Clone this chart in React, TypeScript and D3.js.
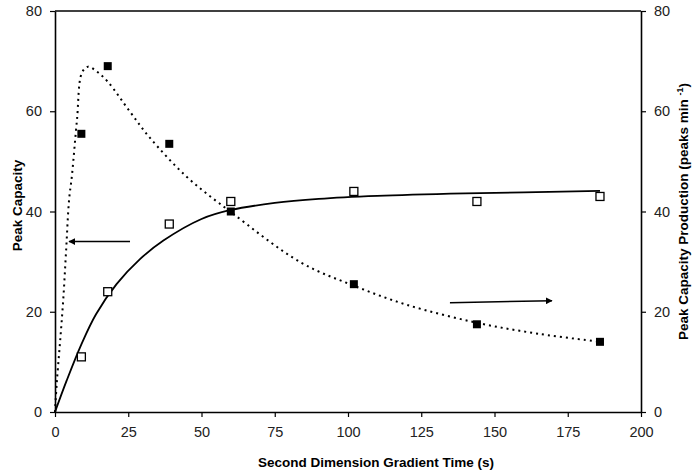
import React, { FC, useEffect, useRef } from "react"
import { axisBottom, axisLeft, axisRight, curveCatmullRom, line, scaleLinear, select } from "d3"

// measured points
const gradientTime = [9, 18, 39, 60, 102, 144, 186]
const peakCapacity = [11, 24, 37.5, 42, 44, 42, 43]
const peakProduction = [55.5, 69, 53.5, 40, 25.5, 17.5, 14]

// fitted curves
const capacityFitTime = [0, 4, 9, 14, 21, 29, 37, 50, 60, 75, 90, 110, 140, 186]
const capacityFitValue = [0, 6.3, 13.5, 19.5, 25.5, 30.5, 34.2, 38.5, 40.3, 41.7, 42.5, 43.1, 43.6, 44.1]
const productionFitTime = [0, 0.6, 1.7, 2.8, 3.8, 4.8, 5.8, 7.5, 9.2, 11.3, 14.3, 18, 25.6, 32.4, 45, 60, 84, 102, 120, 144, 165, 186]
const productionFitValue = [0, 5.8, 13.8, 22.3, 32.3, 42.3, 47.3, 58.3, 67.7, 68.9, 67.9, 65.9, 59.9, 54.7, 46.9, 39.9, 29.8, 25.2, 21.4, 17.8, 15.6, 14]

// arrows pointing to the axis each series belongs to [x0, x1], [y0, y1]
const leftArrowTime = [25.6, 4.8]
const leftArrowValue = [34, 34]
const rightArrowTime = [134.8, 169.6]
const rightArrowValue = [21.8, 22.2]

const xTicks = [0, 25, 50, 75, 100, 125, 150, 175, 200]
const yTicks = [0, 20, 40, 60, 80]

const font = "'Liberation Sans', Arial, sans-serif"

const App: FC = () => {
  const ref = useRef<SVGSVGElement>(null)

  useEffect(() => {
    const svg = select(ref.current)
    svg.selectAll("*").remove()

    const margin = { top: 11, right: 58, bottom: 63, left: 55 }
    const width = 699
    const height = 475
    const innerW = width - margin.left - margin.right
    const innerH = height - margin.top - margin.bottom

    const x = scaleLinear().domain([0, 200]).range([0, innerW])
    const yLeft = scaleLinear().domain([0, 80]).range([innerH, 0])
    const yRight = scaleLinear().domain([0, 80]).range([innerH, 0])

    const defs = svg.append("defs")
    defs
      .append("marker")
      .attr("id", "arrowhead")
      .attr("viewBox", "0 0 10 10")
      .attr("refX", 9)
      .attr("refY", 5)
      .attr("markerWidth", 7)
      .attr("markerHeight", 7)
      .attr("markerUnits", "userSpaceOnUse")
      .attr("orient", "auto")
      .append("path")
      .attr("d", "M0,0 L10,5 L0,10 Z")
      .attr("fill", "#000")

    const g = svg.append("g").attr("transform", `translate(${margin.left},${margin.top})`)

    // axes
    const styleAxis = (sel: any) => {
      sel.select(".domain").attr("stroke", "#000").attr("stroke-width", 1.6)
      sel.selectAll(".tick line").attr("stroke", "#000").attr("stroke-width", 1.2)
      sel.selectAll(".tick text").attr("fill", "#222").style("font-family", font).style("font-size", "14.5px")
    }

    const xAxis = g
      .append("g")
      .attr("transform", `translate(0,${innerH})`)
      .call(axisBottom(x).tickValues(xTicks).tickSizeInner(5).tickSizeOuter(0).tickPadding(10))
    styleAxis(xAxis)

    const leftAxis = g
      .append("g")
      .call(axisLeft(yLeft).tickValues(yTicks).tickSizeInner(5).tickSizeOuter(0).tickPadding(8))
    styleAxis(leftAxis)

    const rightAxis = g
      .append("g")
      .attr("transform", `translate(${innerW},0)`)
      .call(axisRight(yRight).tickValues(yTicks).tickSizeInner(5).tickSizeOuter(0).tickPadding(8))
    styleAxis(rightAxis)

    // top border
    g.append("line")
      .attr("x1", 0)
      .attr("x2", innerW)
      .attr("y1", 0)
      .attr("y2", 0)
      .attr("stroke", "#000")
      .attr("stroke-width", 1.6)

    // fitted curves
    const capLine = line<number>()
      .x((d) => x(d))
      .y((_, i) => yLeft(capacityFitValue[i]))
      .curve(curveCatmullRom)
    g.append("path")
      .attr("d", capLine(capacityFitTime))
      .attr("fill", "none")
      .attr("stroke", "#000")
      .attr("stroke-width", 1.8)

    const prodLine = line<number>()
      .x((d) => x(d))
      .y((_, i) => yRight(productionFitValue[i]))
      .curve(curveCatmullRom)
    g.append("path")
      .attr("d", prodLine(productionFitTime))
      .attr("fill", "none")
      .attr("stroke", "#000")
      .attr("stroke-width", 2)
      .attr("stroke-dasharray", "2,4")

    // markers
    const s = 8
    g.selectAll(".open")
      .data(gradientTime)
      .join("rect")
      .attr("x", (d) => x(d) - s / 2)
      .attr("y", (_, i) => yLeft(peakCapacity[i]) - s / 2)
      .attr("width", s)
      .attr("height", s)
      .attr("fill", "#fff")
      .attr("stroke", "#000")
      .attr("stroke-width", 1.3)

    g.selectAll(".filled")
      .data(gradientTime)
      .join("rect")
      .attr("x", (d) => x(d) - s / 2)
      .attr("y", (_, i) => yRight(peakProduction[i]) - s / 2)
      .attr("width", s)
      .attr("height", s)
      .attr("fill", "#000")

    // arrows
    g.append("line")
      .attr("x1", x(leftArrowTime[0]))
      .attr("x2", x(leftArrowTime[1]))
      .attr("y1", yLeft(leftArrowValue[0]))
      .attr("y2", yLeft(leftArrowValue[1]))
      .attr("stroke", "#000")
      .attr("stroke-width", 1.5)
      .attr("marker-end", "url(#arrowhead)")

    g.append("line")
      .attr("x1", x(rightArrowTime[0]))
      .attr("x2", x(rightArrowTime[1]))
      .attr("y1", yRight(rightArrowValue[0]))
      .attr("y2", yRight(rightArrowValue[1]))
      .attr("stroke", "#000")
      .attr("stroke-width", 1.5)
      .attr("marker-end", "url(#arrowhead)")

    // axis titles
    svg
      .append("text")
      .attr("x", 376)
      .attr("y", 467)
      .attr("text-anchor", "middle")
      .style("font-family", font)
      .style("font-size", "13.5px")
      .style("font-weight", "bold")
      .text("Second Dimension Gradient Time (s)")

    svg
      .append("text")
      .attr("transform", `translate(22,${margin.top + innerH / 2 - 6}) rotate(-90)`)
      .attr("text-anchor", "middle")
      .style("font-family", font)
      .style("font-size", "13.5px")
      .style("font-weight", "bold")
      .text("Peak Capacity")

    const rightTitle = svg
      .append("text")
      .attr("transform", `translate(688,${margin.top + innerH / 2}) rotate(-90)`)
      .attr("text-anchor", "middle")
      .style("font-family", font)
      .style("font-size", "13.5px")
      .style("font-weight", "bold")
    rightTitle.append("tspan").text("Peak Capacity Production (peaks min ")
    rightTitle.append("tspan").attr("dy", -5).style("font-size", "9px").text("-1")
    rightTitle.append("tspan").attr("dy", 5).text(")")
  }, [])

  return (
    <svg
      ref={ref}
      width={699}
      height={475}
      style={{ position: "absolute", left: 0, top: 0, background: "#fff" }}
    />
  )
}

export default App
